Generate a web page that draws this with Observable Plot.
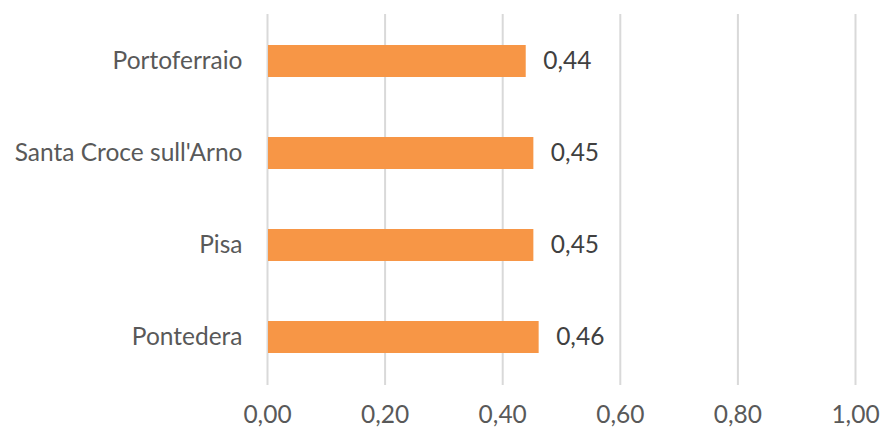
<!DOCTYPE html>
<html>
<head>
<meta charset="utf-8">
<script src="https://cdn.jsdelivr.net/npm/d3@7"></script>
<script src="https://cdn.jsdelivr.net/npm/@observablehq/plot@0.6"></script>
<style>
  html, body { margin: 0; padding: 0; background: #fff; }
  #chart svg { display: block; }
</style>
</head>
<body>
<div id="chart"></div>
<script>
const categories = ["Portoferraio", "Santa Croce sull'Arno", "Pisa", "Pontedera"];
const values = [0.44, 0.453, 0.453, 0.462];
const xTicks = [0, 0.2, 0.4, 0.6, 0.8, 1.0];

const data = categories.map((c, i) => ({ city: c, value: values[i] }));
const fmt = d => d.toFixed(2).replace(".", ",");
const FONT = "Lato, 'Open Sans', sans-serif";
const FS = 24.5;

const chart = Plot.plot({
  width: 882,
  height: 432,
  marginLeft: 267,
  marginRight: 27,
  marginTop: 14,
  marginBottom: 47,
  style: { fontFamily: FONT, fontSize: FS + "px", background: "#fff" },
  x: { domain: [0, 1], ticks: xTicks },
  y: { domain: categories, paddingInner: 0.65, paddingOuter: 0.325 },
  marks: [
    Plot.ruleX(xTicks, { stroke: "#d9d9d9", strokeWidth: 2 }),
    Plot.barX(data, { x: "value", y: "city", fill: "#F79646", insetLeft: 1 }),
    Plot.text(data, { x: "value", y: "city", text: d => fmt(d.value), dx: 17, textAnchor: "start", fill: "#404040", fontSize: FS }),
    Plot.axisX(xTicks, { tickSize: 0, tickPadding: 20, tickFormat: fmt, fill: "#595959", fontSize: FS, label: null }),
    Plot.axisY({ tickSize: 0, tickPadding: 25, fill: "#595959", fontSize: FS, label: null })
  ]
});
document.getElementById("chart").append(chart);
</script>
</body>
</html>
